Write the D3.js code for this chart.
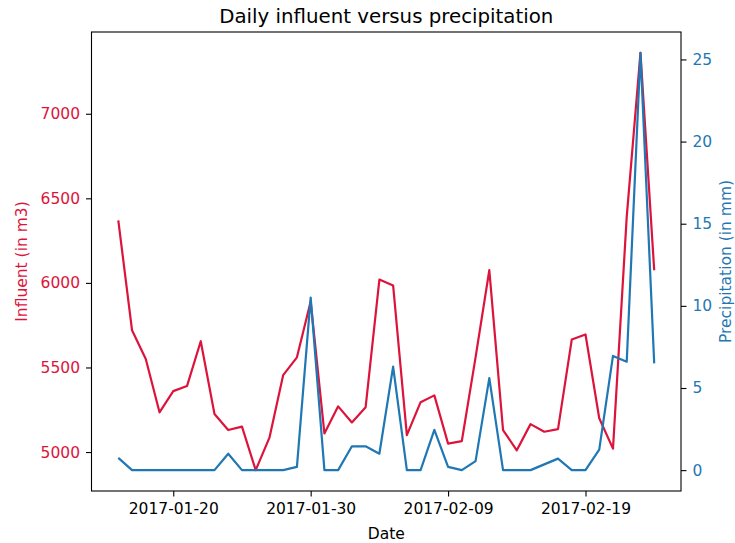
<!DOCTYPE html>
<html>
<head>
<meta charset="utf-8">
<script src="https://cdn.jsdelivr.net/npm/d3@7"></script>
<style>
  html, body { margin: 0; padding: 0; background: #fff; }
  svg { display: block; font-family: "DejaVu Sans", sans-serif; }
</style>
</head>
<body>
<svg id="chart" width="735" height="543"></svg>
<script>
// Daily observations
const dates = [
  "2017-01-16", "2017-01-17", "2017-01-18", "2017-01-19", "2017-01-20",
  "2017-01-21", "2017-01-22", "2017-01-23", "2017-01-24", "2017-01-25",
  "2017-01-26", "2017-01-27", "2017-01-28", "2017-01-29", "2017-01-30",
  "2017-01-31", "2017-02-01", "2017-02-02", "2017-02-03", "2017-02-04",
  "2017-02-05", "2017-02-06", "2017-02-07", "2017-02-08", "2017-02-09",
  "2017-02-10", "2017-02-11", "2017-02-12", "2017-02-13", "2017-02-14",
  "2017-02-15", "2017-02-16", "2017-02-17", "2017-02-18", "2017-02-19",
  "2017-02-20", "2017-02-21", "2017-02-22", "2017-02-23", "2017-02-24"
];

// Influent volume, m3
const influent = [
  6370, 5720, 5550, 5235, 5360, 5390, 5655, 5225, 5130, 5150,
  4893, 5085, 5455, 5560, 5890, 5110, 5270, 5175, 5265, 6020,
  5985, 5100, 5295, 5335, 5050, 5065, 5560, 6075, 5130, 5010,
  5165, 5120, 5135, 5665, 5695, 5200, 5020, 6390, 7360, 6075
];

// Precipitation, mm
const precipitation = [
  0.75, 0, 0, 0, 0, 0, 0, 0, 1.0, 0,
  0, 0, 0, 0.2, 10.5, 0, 0, 1.45, 1.45, 1.0,
  6.3, 0, 0, 2.45, 0.2, 0, 0.55, 5.6, 0, 0,
  0, 0.35, 0.7, 0, 0, 1.25, 6.95, 6.6, 25.4, 6.5
];

const xTickLabels = ["2017-01-20", "2017-01-30", "2017-02-09", "2017-02-19"];
const leftTicks = [5000, 5500, 6000, 6500, 7000];
const rightTicks = [0, 5, 10, 15, 20, 25];

const influentColor = "#dc143c";
const precipColor = "#1f77b4";

const svg = d3.select("#chart");
const box = { left: 91.5, right: 681, top: 32, bottom: 491 };

const parse = d3.utcParse("%Y-%m-%d");
const days = dates.map(parse);

// Padded domain, 5% on each side
function padded(lo, hi) {
  const r = hi - lo;
  return [lo - 0.05 * r, hi + 0.05 * r];
}

const tExt = d3.extent(days).map(d => +d);
const x = d3.scaleUtc()
  .domain(padded(tExt[0], tExt[1]).map(v => new Date(v)))
  .range([box.left, box.right]);

const yL = d3.scaleLinear()
  .domain(padded(d3.min(influent), d3.max(influent)))
  .range([box.bottom, box.top]);

const yR = d3.scaleLinear()
  .domain(padded(d3.min(precipitation), d3.max(precipitation)))
  .range([box.bottom, box.top]);

// Lines
const lineL = d3.line().x((d, i) => x(days[i])).y(d => yL(d));
const lineR = d3.line().x((d, i) => x(days[i])).y(d => yR(d));

const plot = svg.append("g");
plot.append("path")
  .datum(influent)
  .attr("d", lineL)
  .attr("fill", "none")
  .attr("stroke", influentColor)
  .attr("stroke-width", 2.2)
  .attr("stroke-linejoin", "round");

plot.append("path")
  .datum(precipitation)
  .attr("d", lineR)
  .attr("fill", "none")
  .attr("stroke", precipColor)
  .attr("stroke-width", 2.2)
  .attr("stroke-linejoin", "round");

// Frame
svg.append("rect")
  .attr("x", box.left).attr("y", box.top)
  .attr("width", box.right - box.left).attr("height", box.bottom - box.top)
  .attr("fill", "none").attr("stroke", "#000").attr("stroke-width", 1.1);

const fontSize = "15.5px";

// Bottom axis
const xAxis = d3.axisBottom(x)
  .tickValues(xTickLabels.map(parse))
  .tickFormat(d3.utcFormat("%Y-%m-%d"))
  .tickSize(5.5).tickPadding(6);
const gx = svg.append("g").attr("transform", `translate(0,${box.bottom})`).call(xAxis);
gx.select(".domain").remove();
gx.selectAll("line").attr("stroke", "#000").attr("stroke-width", 1.1);
gx.selectAll("text").attr("fill", "#000").style("font-size", fontSize)
  .style("font-family", "DejaVu Sans");

// Left axis
const lAxis = d3.axisLeft(yL).tickValues(leftTicks).tickFormat(d3.format("d"))
  .tickSize(5.5).tickPadding(6);
const gl = svg.append("g").attr("transform", `translate(${box.left},0)`).call(lAxis);
gl.select(".domain").remove();
gl.selectAll("line").attr("stroke", "#000").attr("stroke-width", 1.1);
gl.selectAll("text").attr("fill", influentColor).style("font-size", fontSize)
  .style("font-family", "DejaVu Sans");

// Right axis
const rAxis = d3.axisRight(yR).tickValues(rightTicks).tickFormat(d3.format("d"))
  .tickSize(5.5).tickPadding(6);
const gr = svg.append("g").attr("transform", `translate(${box.right},0)`).call(rAxis);
gr.select(".domain").remove();
gr.selectAll("line").attr("stroke", "#000").attr("stroke-width", 1.1);
gr.selectAll("text").attr("fill", precipColor).style("font-size", fontSize)
  .style("font-family", "DejaVu Sans");

const midY = (box.top + box.bottom) / 2;
const midX = (box.left + box.right) / 2;

// Axis titles
svg.append("text")
  .attr("x", midX).attr("y", 539)
  .attr("text-anchor", "middle")
  .style("font-size", fontSize).attr("fill", "#000")
  .text("Date");

svg.append("text")
  .attr("transform", `translate(26.5,${midY}) rotate(-90)`)
  .attr("text-anchor", "middle")
  .style("font-size", fontSize).attr("fill", influentColor)
  .text("Influent (in m3)");

svg.append("text")
  .attr("transform", `translate(731,${midY}) rotate(-90)`)
  .attr("text-anchor", "middle")
  .style("font-size", fontSize).attr("fill", precipColor)
  .text("Precipitation (in mm)");

// Chart title
svg.append("text")
  .attr("x", midX).attr("y", 23)
  .attr("text-anchor", "middle")
  .style("font-size", "19.8px").attr("fill", "#000")
  .text("Daily influent versus precipitation");
</script>
</body>
</html>
